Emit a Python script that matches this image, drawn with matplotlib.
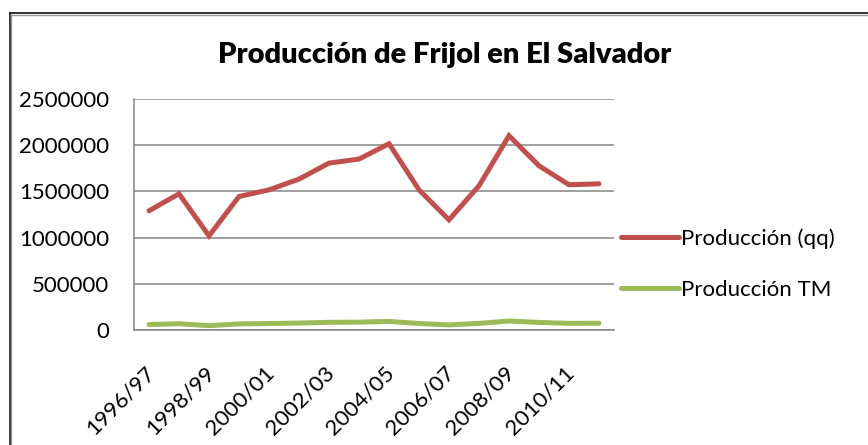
import matplotlib
matplotlib.use("Agg")
import matplotlib.pyplot as plt
from matplotlib.lines import Line2D
from matplotlib.transforms import ScaledTranslation

plt.rcParams['font.family'] = ['Lato', 'DejaVu Sans']

years = ["1996/97", "1997/98", "1998/99", "1999/00", "2000/01", "2001/02",
         "2002/03", "2003/04", "2004/05", "2005/06", "2006/07", "2007/08",
         "2008/09", "2009/10", "2010/11", "2011/12"]
prod_qq = [1290000, 1474000, 1019000, 1445000, 1517000, 1633000, 1806000,
           1850000, 2016000, 1517000, 1192000, 1561000, 2103000, 1777000,
           1572000, 1582000]
prod_tm = [59000, 68000, 47000, 66000, 70000, 75000, 83000, 85000, 93000,
           70000, 55000, 72000, 97000, 82000, 72000, 73000]
series_names = ["Producción (qq)", "Producción TM"]
title = "Producción de Frijol en El Salvador"
yticks = [0, 500000, 1000000, 1500000, 2000000, 2500000]

W, H = 868, 445
fig = plt.figure(figsize=(W / 100, H / 100), dpi=100)
ax = fig.add_axes([134 / W, 1 - 330 / H, (614 - 134) / W, (330 - 99) / H])

x = list(range(len(years)))
l1, = ax.plot(x, prod_qq, color="#C0504D", lw=3.6, solid_capstyle="round",
              solid_joinstyle="miter")
l2, = ax.plot(x, prod_tm, color="#9BBB59", lw=3.6, solid_capstyle="round",
              solid_joinstyle="miter")

ax.set_xlim(-0.5, len(years) - 0.5)
ax.set_ylim(0, 2500000)
ax.set_yticks(yticks)
ax.set_yticklabels([str(v) for v in yticks], fontsize=16)
ax.yaxis.grid(True, color="#868686", lw=1.1)
ax.set_axisbelow(True)
ax.set_xticks(x[::2])
ax.set_xticklabels(years[::2], rotation=45, ha="right", va="top",
                   rotation_mode="anchor", fontsize=16)
ax.tick_params(axis="x", length=0, pad=22)
ax.tick_params(axis="y", length=0, pad=18)
shift = ScaledTranslation(-5 / 100, -2 / 100, fig.dpi_scale_trans)
for lbl in ax.get_xticklabels():
    lbl.set_transform(lbl.get_transform() + shift)
for s in ["top", "right"]:
    ax.spines[s].set_visible(False)
for s in ["left", "bottom"]:
    ax.spines[s].set_color("#868686")
    ax.spines[s].set_linewidth(1.1)

fig.text(445 / W, 1 - 55 / H, title, ha="center", va="center",
         fontsize=21, fontweight="heavy")

fig.legend([l1, l2], series_names, loc="upper left",
           bbox_to_anchor=(621 / W, 1 - 228 / H), frameon=False,
           fontsize=16, handlelength=2.6, handletextpad=0.12,
           labelspacing=1.4, borderaxespad=0, borderpad=0)

# chart area border
fig.add_artist(Line2D([9.5 / W, 9.5 / W], [0, 1 - 13 / H], color="#222222",
                      lw=1.3, transform=fig.transFigure))
fig.add_artist(Line2D([9.5 / W, 1], [1 - 13 / H, 1 - 13 / H], color="#222222",
                      lw=1.3, transform=fig.transFigure))
fig.add_artist(Line2D([11 / W, 11 / W], [0, 1 - 14.5 / H], color="#999999",
                      lw=1.0, transform=fig.transFigure))
fig.add_artist(Line2D([11 / W, 1], [1 - 14.5 / H, 1 - 14.5 / H], color="#999999",
                      lw=1.0, transform=fig.transFigure))

fig.savefig("out.png", dpi=100)
